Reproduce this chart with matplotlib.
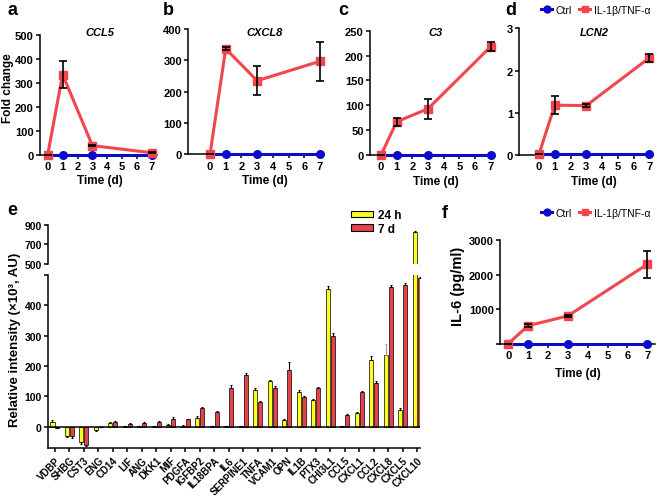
import matplotlib
matplotlib.use('Agg')
import matplotlib.pyplot as plt
import numpy as np
from matplotlib.lines import Line2D
from matplotlib.patches import Patch
import matplotlib.transforms as mtransforms

plt.rcParams['font.family'] = ['Liberation Sans', 'DejaVu Sans']
plt.rcParams['font.weight'] = 'bold'
plt.rcParams['axes.labelweight'] = 'bold'

# ---------------- data ----------------
days = [0, 1, 3, 7]

ccl5_ctrl = [0, 0, 0, 0]
ccl5_trt = [0, 335, 38, 8]
ccl5_err = [0, 58, 3, 2]

cxcl8_ctrl = [0, 0, 0, 0]
cxcl8_trt = [0, 337, 235, 297]
cxcl8_err = [0, 4, 47, 63]

c3_ctrl = [0, 0, 0, 0]
c3_trt = [0, 67, 93, 218]
c3_err = [0, 8, 20, 9]

lcn2_ctrl = [0.02, 0.02, 0.02, 0.02]
lcn2_trt = [0.02, 1.18, 1.17, 2.3]
lcn2_err = [0, 0.21, 0.03, 0.1]

il6_ctrl = [0, 0, 0, 0]
il6_trt = [10, 530, 810, 2300]
il6_err = [0, 40, 40, 390]

cats = ['VDBP', 'SHBG', 'CST3', 'ENG', 'CD14', 'LIF', 'ANG', 'DKK1', 'MIF',
        'PDGFA', 'IGFBP2', 'IL18BPA', 'IL6', 'SERPINE1', 'TNFA', 'VCAM1',
        'OPN', 'IL1B', 'PTX3', 'CHI3L1', 'CCL5', 'CXCL1', 'CCL2', 'CXCL8',
        'CXCL5', 'CXCL10']
v24 = [14, -30, -51, -11, 12, 3, 3, 3, 6, 4, 29, 3, 2, 2, 121, 150, 22, 115,
       89, 452, 1, 44, 218, 236, 54, 825]
e24 = [8, 5, 5, 4, 3, 1, 1, 1, 3, 1, 5, 1, 1, 1, 5, 5, 5, 5, 1, 12, 1, 5,
       15, 35, 6, 15]
v7 = [-4, -31, -60, 0, 16, 8, 13, 16, 27, 24, 62, 50, 126, 170, 80, 126, 186,
      98, 128, 300, 39, 115, 145, 461, 465, 490]
e7 = [1, 5, 5, 0, 3, 3, 3, 4, 4, 3, 3, 3, 12, 6, 4, 8, 28, 4, 4, 8, 3, 3, 4,
      6, 8, 4]

# ---------------- style ----------------
W, H = 658, 502
RED = '#F0464E'
BLUE = '#0B0BC8'
YEL = '#FFFF1F'
BRED = '#E5424A'
SPW = 1.1

fig = plt.figure(figsize=(W / 100, H / 100), dpi=100)


def px_axes(l, t, r, b):
    return fig.add_axes([l / W, 1 - b / H, (r - l) / W, (b - t) / H])


def style(ax, fs=8):
    for s in ['top', 'right']:
        ax.spines[s].set_visible(False)
    for s in ['left', 'bottom']:
        ax.spines[s].set_linewidth(SPW)
    ax.tick_params(direction='out', length=3, width=SPW, labelsize=fs, pad=1.5)


def time_panel(l, t, r, b, x0, x7, ylim, yticks, ylabels, ctrl, trt, err,
               title=None, xlabfs=8.5):
    ax = px_axes(l, t, r, b)
    ppd = (x7 - x0) / 7.0
    xl = ((l - x0) / ppd, (r - x0) / ppd)
    ax.set_xlim(*xl)
    ax.set_ylim(*ylim)
    ax.plot(days, ctrl, '-o', color=BLUE, lw=2.2, ms=5.5, clip_on=False, zorder=3)
    ax.plot(days, trt, '-s', color=RED, lw=2.2, ms=5.5, clip_on=False, zorder=4)
    ax.errorbar(days, trt, yerr=err, fmt='none', ecolor='black',
                elinewidth=1.2, capsize=2.6, capthick=1.2, zorder=5)
    style(ax)
    ax.set_xticks(range(8))
    ax.set_yticks(yticks)
    ax.set_yticklabels(ylabels)
    ax.set_xlabel('Time (d)', fontsize=xlabfs, labelpad=1)
    ax.xaxis.set_label_coords((3.5 - xl[0]) / (xl[1] - xl[0]), -0.16 if title else -0.22)
    if title:
        tr = mtransforms.blended_transform_factory(ax.transData, fig.transFigure)
        ax.text(3.5, 1 - 33 / H, title, transform=tr, ha='center', va='center',
                style='italic', weight='bold', fontsize=8)
    return ax


# panels a-d
time_panel(40, 36, 157, 155.7, 47.7, 152, (0, 500), range(0, 501, 100),
           [str(v) for v in range(0, 501, 100)], ccl5_ctrl, ccl5_trt, ccl5_err, 'CCL5')
time_panel(188.3, 30, 323, 155.3, 210, 320, (0, 400), range(0, 401, 100),
           [str(v) for v in range(0, 401, 100)], cxcl8_ctrl, cxcl8_trt, cxcl8_err, 'CXCL8')
time_panel(370, 31.7, 494, 156, 381, 490.7, (0, 250), range(0, 251, 50),
           [str(v) for v in range(0, 251, 50)], c3_ctrl, c3_trt, c3_err, 'C3')
time_panel(519.3, 29.3, 653, 156, 539, 649.3, (0, 3), [0, 1, 2, 3],
           ['0', '1', '2', '3'], lcn2_ctrl, lcn2_trt, lcn2_err, 'LCN2')

fig.text(8 / W, 1 - 88 / H, 'Fold change', rotation=90, ha='center', va='center',
         fontsize=8.5, weight='bold')

# panel f
axf = time_panel(500, 241, 655, 345, 508.3, 647.3, (0, 3000), [0, 1000, 2000, 3000],
                 ['', '1000', '2000', '3000'], il6_ctrl, il6_trt, il6_err, None, xlabfs=8.5)
fig.text(458 / W, 1 - 286 / H, 'IL-6 (pg/ml)', rotation=90, ha='center', va='center',
         fontsize=10.5, weight='bold')

# legends for line panels
handles = [Line2D([], [], color=BLUE, marker='o', lw=2.2, ms=5),
           Line2D([], [], color=RED, marker='s', lw=2.2, ms=5)]
for ytop in [6, 209]:
    fig.legend(handles, ['Ctrl', 'IL-1\u03b2/TNF-\u03b1'], loc='upper right',
               bbox_to_anchor=(0.988, 1 - ytop / H), ncol=2, frameon=False,
               handlelength=1.1, handletextpad=0.3, columnspacing=0.7,
               borderaxespad=0, borderpad=0, prop={'size': 7.5, 'weight': 'normal'})

# panel e
x = np.arange(len(cats))
bw = 0.28
off = 0.17
xl = (-0.48, 25.2)

axl = px_axes(48, 276, 420, 449)
axu = px_axes(48, 225.7, 420, 265)
for ax in (axl, axu):
    ax.bar(x - off, v24, bw, color=YEL, edgecolor='black', linewidth=0.5, zorder=2)
    ax.bar(x + off, v7, bw, color=BRED, edgecolor='black', linewidth=0.5, zorder=2)
    for xi, v, e in zip(x, v24, e24):
        lo, hi = (0, e) if v >= 0 else (e, 0)
        col = '#999999' if e >= 30 else 'black'
        ax.errorbar([xi - off], [v], yerr=[[lo], [hi]], fmt='none', ecolor=col,
                    elinewidth=0.8, capsize=1.0, capthick=0.8, zorder=3)
    for xi, v, e in zip(x, v7, e7):
        lo, hi = (0, e) if v >= 0 else (e, 0)
        ax.errorbar([xi + off], [v], yerr=[[lo], [hi]], fmt='none', ecolor='black',
                    elinewidth=0.8, capsize=1.0, capthick=0.8, zorder=3)
    ax.set_xlim(*xl)

axl.set_ylim(-70, 499)
style(axl, fs=7.5)
axl.axhline(0, color='black', lw=SPW, zorder=4)
axl.set_yticks([0, 100, 200, 300, 400, 499])
axl.set_yticklabels(['0', '100', '200', '300', '400', ''])
axl.set_xticks(x)
axl.set_xticklabels(cats, rotation=45, ha='right', rotation_mode='anchor', fontsize=7)
axl.tick_params(axis='x', pad=2)

axu.set_ylim(500, 900)
style(axu, fs=7.5)
axu.spines['bottom'].set_visible(False)
axu.set_xticks([])
axu.set_yticks([500, 700, 900])

fig.text(15 / W, 1 - 340 / H, 'Relative intensity (\u00d710\u00b3, AU)', rotation=90,
         ha='center', va='center', fontsize=9.5, weight='bold')

fig.legend([Patch(facecolor=YEL, edgecolor='black', lw=0.8),
            Patch(facecolor=BRED, edgecolor='black', lw=0.8)], ['24 h', '7 d'],
           loc='upper left', bbox_to_anchor=(351 / W, 1 - 210 / H), frameon=False,
           handlelength=1.9, handleheight=0.45, handletextpad=0.35, labelspacing=0.15,
           borderaxespad=0, borderpad=0, prop={'size': 8.5, 'weight': 'bold'})

# panel letters
for lab, xx, yy in [('a', 7, 15), ('b', 163, 15), ('c', 338, 15), ('d', 505, 15),
                    ('e', 7, 215), ('f', 442, 218)]:
    fig.text(xx / W, 1 - yy / H, lab, fontsize=13, weight='bold', ha='left', va='baseline')

fig.savefig('out.png', dpi=100)
